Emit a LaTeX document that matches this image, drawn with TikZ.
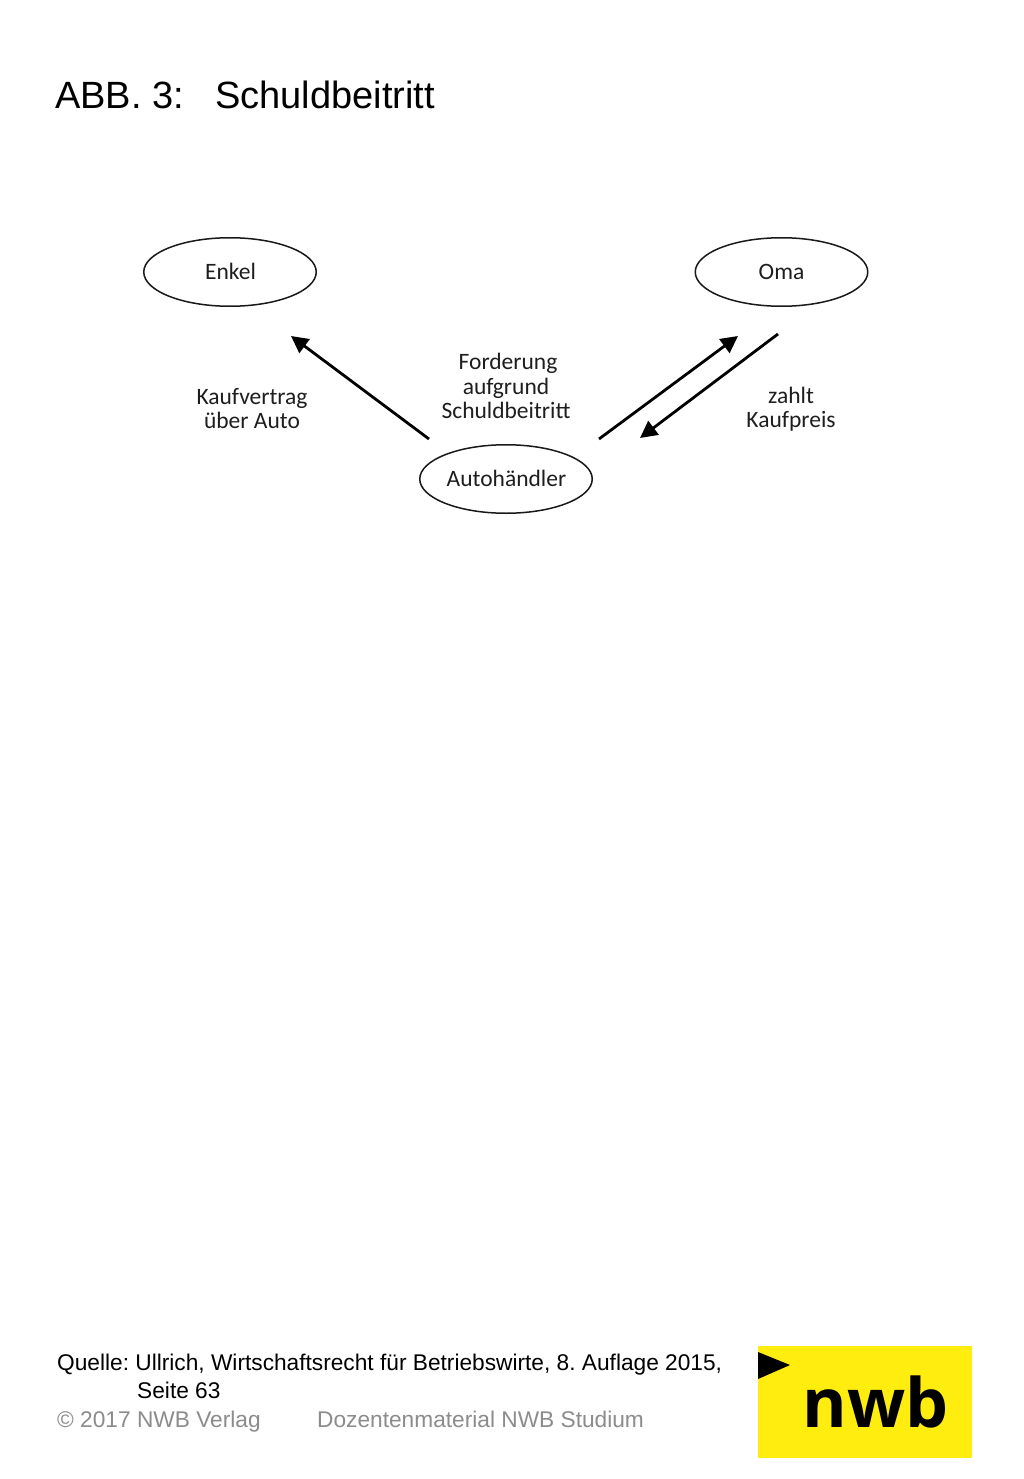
\documentclass[tikz,border=0pt]{standalone}
\usepackage{fontspec}
\setmainfont{Liberation Sans}
\newfontfamily\diagfont{Carlito}
\newfontfamily\logofont{Open Sans}
\usetikzlibrary{shapes.geometric,arrows.meta}
\definecolor{nwbyellow}{RGB}{255,237,15}
\definecolor{footgray}{RGB}{140,140,140}
\definecolor{difftext}{RGB}{30,30,30}
\tikzset{
  party/.style={draw=black!90,line width=1.5pt,ellipse,minimum width=172.5pt,minimum height=68.5pt,inner sep=0pt,font=\diagfont\fontsize{23.5}{25}\selectfont,text=difftext},
  lab/.style={align=center,inner sep=0pt,font=\diagfont\fontsize{23.5}{24.5}\selectfont,text=difftext},
  flow/.style={line width=2.8pt,-{Triangle[length=17pt,width=17pt]},shorten >=0pt},
  foot/.style={anchor=base west,inner sep=0pt,font=\fontsize{22.7}{25}\selectfont},
}
\begin{document}
\frenchspacing
\begin{tikzpicture}[x=1pt,y=-1pt]
\useasboundingbox (0,0) rectangle (1024,1479);
\fill[white] (0,0) rectangle (1024,1479);
\node[anchor=base west,inner sep=0pt,font=\fontsize{38}{40}\selectfont] (title) at (55,109) {ABB. 3:};
\node[anchor=base west,inner sep=0pt,font=\fontsize{38}{40}\selectfont] (titleb) at (215,109) {Schuldbeitritt};
\node[party] (enkel) at (230,272) {\raisebox{1pt}{\hspace{1pt}Enkel}};
\node[party] (oma) at (781.5,272) {Oma};
\node[party] (haendler) at (506,479) {\raisebox{1pt}{\hspace{1pt}Autohändler}};
\node[lab] (lk) at (252,408.5) {Kaufvertrag\\über Auto};
\node[lab] (lf) at (506,386) {\hspace{4pt}Forderung\\aufgrund\\Schuldbeitritt};
\node[lab] (lz) at (791,409) {zahlt\hspace{6pt}\\Kaufpreis};
\coordinate (a1) at (429,439);
\coordinate (a2) at (291,336);
\coordinate (b1) at (599,439);
\coordinate (b2) at (738,336);
\coordinate (c1) at (778,334);
\coordinate (c2) at (640,438);
\draw[flow] (a1) -- (a2);
\draw[flow] (b1) -- (b2);
\draw[flow] (c1) -- (c2);
\node[foot] (q1) at (57,1370) {Quelle: Ullrich, Wirtschaftsrecht für Betriebswirte, 8. Auflage 2015,};
\node[foot] (q2) at (137,1398) {Seite 63};
\node[foot,text=footgray] (c) at (57,1427) {© 2017 NWB Verlag};
\node[foot,text=footgray] (d) at (317,1427) {Dozentenmaterial NWB Studium};
\fill[nwbyellow] (758,1346) rectangle (972,1458);
\fill[black] (758,1352) -- (790,1365) -- (758,1379) -- cycle;
\node[anchor=base,inner sep=0pt,font=\logofont\bfseries\fontsize{68}{68}\selectfont] (logo) at (875.5,1427) {nwb};
\end{tikzpicture}
\end{document}
